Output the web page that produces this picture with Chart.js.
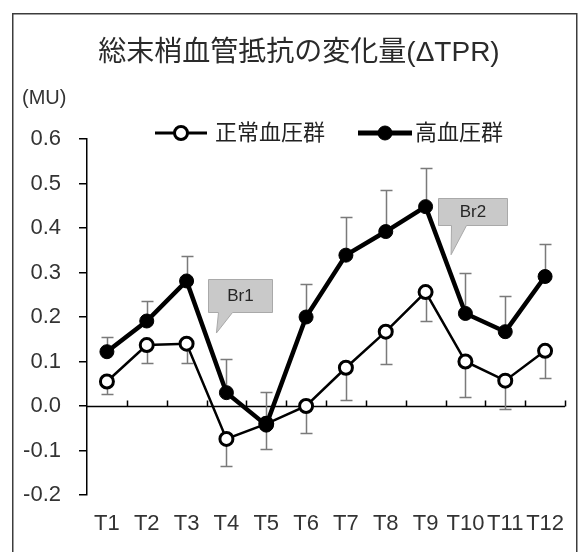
<!DOCTYPE html>
<html><head><meta charset="utf-8">
<script src="https://cdn.jsdelivr.net/npm/chart.js@4.4.0/dist/chart.umd.min.js"></script>
<style>html,body{margin:0;padding:0;background:#fff}#wrap{width:582px;height:552px;position:relative}canvas{display:block}</style>
</head><body><div id="wrap"><canvas id="c" width="582" height="552"></canvas></div>
<script>
const categories = ['T1','T2','T3','T4','T5','T6','T7','T8','T9','T10','T11','T12'];
const seriesNames = ['正常血圧群','高血圧群'];
const normalValues = [0.055, 0.137, 0.140, -0.074, -0.040, 0.000, 0.086, 0.167, 0.256, 0.100, 0.057, 0.124];
const normalErrors = [0.028, 0.041, 0.044, 0.060, 0.056, 0.061, 0.073, 0.073, 0.066, 0.079, 0.064, 0.060];
const hyperValues  = [0.122, 0.191, 0.281, 0.030, -0.043, 0.200, 0.339, 0.392, 0.448, 0.208, 0.167, 0.291];
const hyperErrors  = [0.034, 0.046, 0.056, 0.076, 0.074, 0.074, 0.086, 0.093, 0.087, 0.092, 0.081, 0.074];
const yTicks = [-0.2, -0.1, 0.0, 0.1, 0.2, 0.3, 0.4, 0.5, 0.6];
const chartTitle = '総末梢血管抵抗の変化量(ΔTPR)';
const unitLabel = '(MU)';
const calloutLabels = ['Br1', 'Br2'];
const calloutCategories = ['T4', 'T9'];
const calloutValues = [0.164, 0.34];

const LATIN = '"Liberation Sans", Arial, sans-serif';
const CJK = '"Liberation Sans", "Noto Sans CJK JP", sans-serif';

const framePlugin = {
  id: 'frame',
  beforeDraw(chart) {
    chart.scales.y.left = 0;
    const ctx = chart.ctx;
    ctx.save();
    ctx.fillStyle = '#fff';
    ctx.fillRect(0, 0, chart.width, chart.height);
    ctx.strokeStyle = '#3c3c3c';
    ctx.lineWidth = 1.5;
    ctx.strokeRect(12.75, 13.75, 564, 600);
    ctx.restore();
  }
};

const errorAxisPlugin = {
  id: 'errorAxis',
  beforeDatasetsDraw(chart) {
    const ctx = chart.ctx;
    const xs = chart.scales.x, ys = chart.scales.y;
    const area = chart.chartArea;
    ctx.save();
    const y0 = Math.round(ys.getPixelForValue(0)) + 0.5;
    ctx.strokeStyle = '#000';
    ctx.lineWidth = 1.5;
    ctx.beginPath();
    ctx.moveTo(area.left, y0);
    ctx.lineTo(area.right, y0);
    const step = (area.right - area.left) / categories.length;
    for (let k = 1; k <= categories.length; k++) {
      const bx = Math.round(area.left + k * step) + 0.5;
      ctx.moveTo(bx, y0);
      ctx.lineTo(bx, y0 - 6);
    }
    ctx.stroke();
    ctx.strokeStyle = '#7a7a7a';
    ctx.lineWidth = 1.5;
    const series = [[normalValues, normalErrors, -1], [hyperValues, hyperErrors, 1]];
    series.forEach(([vals, errs, dir]) => {
      vals.forEach((v, i) => {
        const x = Math.round(xs.getPixelForValue(i)) + 0.5;
        const ya = ys.getPixelForValue(v);
        const yb = Math.round(ys.getPixelForValue(v + dir * errs[i])) + 0.5;
        ctx.beginPath();
        ctx.moveTo(x, ya);
        ctx.lineTo(x, yb);
        ctx.moveTo(x - 6, yb);
        ctx.lineTo(x + 6, yb);
        ctx.stroke();
      });
    });
    ctx.restore();
  }
};

const overlayPlugin = {
  id: 'overlay',
  afterDatasetsDraw(chart) {
    const ctx = chart.ctx;
    const xs = chart.scales.x, ys = chart.scales.y;
    ctx.save();
    const shapes = [
      {dxBox: -18, w: 64, h: 33, dxTip: -10, rise: 54, base: [10, 24]},
      {dxBox: 12.5, w: 69, h: 27, dxTip: 25.5, rise: 57, base: [13, 28]}
    ];
    calloutLabels.forEach((lab, i) => {
      const s = shapes[i];
      const cx = xs.getPixelForValue(categories.indexOf(calloutCategories[i]));
      const tipY = ys.getPixelForValue(calloutValues[i]);
      const left = Math.round(cx + s.dxBox) + 0.5;
      const top = Math.round(tipY - s.rise) + 0.5;
      const right = left + s.w, bottom = top + s.h;
      ctx.beginPath();
      ctx.moveTo(left, top);
      ctx.lineTo(right, top);
      ctx.lineTo(right, bottom);
      ctx.lineTo(left + s.base[1], bottom);
      ctx.lineTo(cx + s.dxTip, tipY);
      ctx.lineTo(left + s.base[0], bottom);
      ctx.lineTo(left, bottom);
      ctx.closePath();
      ctx.fillStyle = '#c9c9c9';
      ctx.fill();
      ctx.strokeStyle = '#a9a9a9';
      ctx.lineWidth = 1;
      ctx.stroke();
      ctx.fillStyle = '#262626';
      ctx.font = '17px ' + LATIN;
      ctx.textAlign = 'center';
      ctx.textBaseline = 'middle';
      ctx.fillText(lab, (left + right) / 2, (top + bottom) / 2);
    });
    ctx.restore();
  },
  afterDraw(chart) {
    const ctx = chart.ctx;
    ctx.save();
    ctx.fillStyle = '#333';
    ctx.font = '20px ' + LATIN;
    ctx.textAlign = 'left';
    ctx.textBaseline = 'middle';
    ctx.fillText(unitLabel, 22, 98);
    const items = [{x0: 155, x1: 207, tx: 215}, {x0: 358, x1: 412, tx: 415}];
    [0, 1].forEach((di, k) => {
      const ds = chart.data.datasets[di];
      const it = items[k];
      const y = 133;
      ctx.strokeStyle = ds.borderColor;
      ctx.lineWidth = ds.borderWidth + 0.5;
      ctx.beginPath();
      ctx.moveTo(it.x0, y);
      ctx.lineTo(it.x1, y);
      ctx.stroke();
      ctx.fillStyle = ds.pointBackgroundColor;
      ctx.strokeStyle = ds.pointBorderColor;
      ctx.lineWidth = ds.pointBorderWidth;
      Chart.helpers.drawPoint(ctx, {pointStyle: 'circle', radius: ds.pointRadius, borderWidth: ds.pointBorderWidth, rotation: 0}, (it.x0 + it.x1) / 2, y);
      ctx.fillStyle = '#222';
      ctx.font = '22px ' + CJK;
      ctx.textAlign = 'left';
      ctx.textBaseline = 'middle';
      ctx.fillText(ds.label, it.tx, y + 1);
    });
    ctx.restore();
  }
};

new Chart(document.getElementById('c'), {
  type: 'line',
  data: {
    labels: categories,
    datasets: [
      {
        label: seriesNames[0], data: normalValues, order: 1,
        borderColor: '#000', borderWidth: 2.5, tension: 0,
        pointRadius: 6.5, pointBorderWidth: 3, pointBackgroundColor: '#fff', pointBorderColor: '#000'
      },
      {
        label: seriesNames[1], data: hyperValues, order: 0,
        borderColor: '#000', borderWidth: 4.5, tension: 0,
        pointRadius: 7, pointBorderWidth: 1, pointBackgroundColor: '#000', pointBorderColor: '#000'
      }
    ]
  },
  options: {
    responsive: false,
    devicePixelRatio: 1,
    animation: false,
    events: [],
    layout: {padding: {left: 33, right: 17, top: 0, bottom: 0}},
    plugins: {
      legend: {display: false},
      tooltip: {enabled: false},
      title: {
        display: true, text: chartTitle, color: '#2a2a2a',
        font: {family: CJK, size: 28, weight: 'normal', lineHeight: 1.2},
        padding: {top: 36, bottom: 69.4}
      }
    },
    scales: {
      x: {
        type: 'category', offset: true,
        grid: {display: false, drawTicks: false},
        border: {display: false},
        ticks: {color: '#333', font: {family: LATIN, size: 22}, padding: 16, autoSkip: false, maxRotation: 0},
        afterFit(s) { s.height = 57; }
      },
      y: {
        type: 'linear', min: -0.2, max: 0.6,
        afterBuildTicks(s) { s.ticks = yTicks.map(v => ({value: v})); },
        grid: {display: true, drawOnChartArea: false, drawTicks: true, tickLength: 8, color: '#000', lineWidth: 1.5},
        border: {display: true, color: '#000', width: 1.5},
        ticks: {color: '#333', font: {family: LATIN, size: 22}, padding: 18,
          callback: v => (Math.round(v * 10) / 10).toFixed(1)},
        afterFit(s) { s.width = 54; }
      }
    }
  },
  plugins: [framePlugin, errorAxisPlugin, overlayPlugin]
});
</script></body></html>
